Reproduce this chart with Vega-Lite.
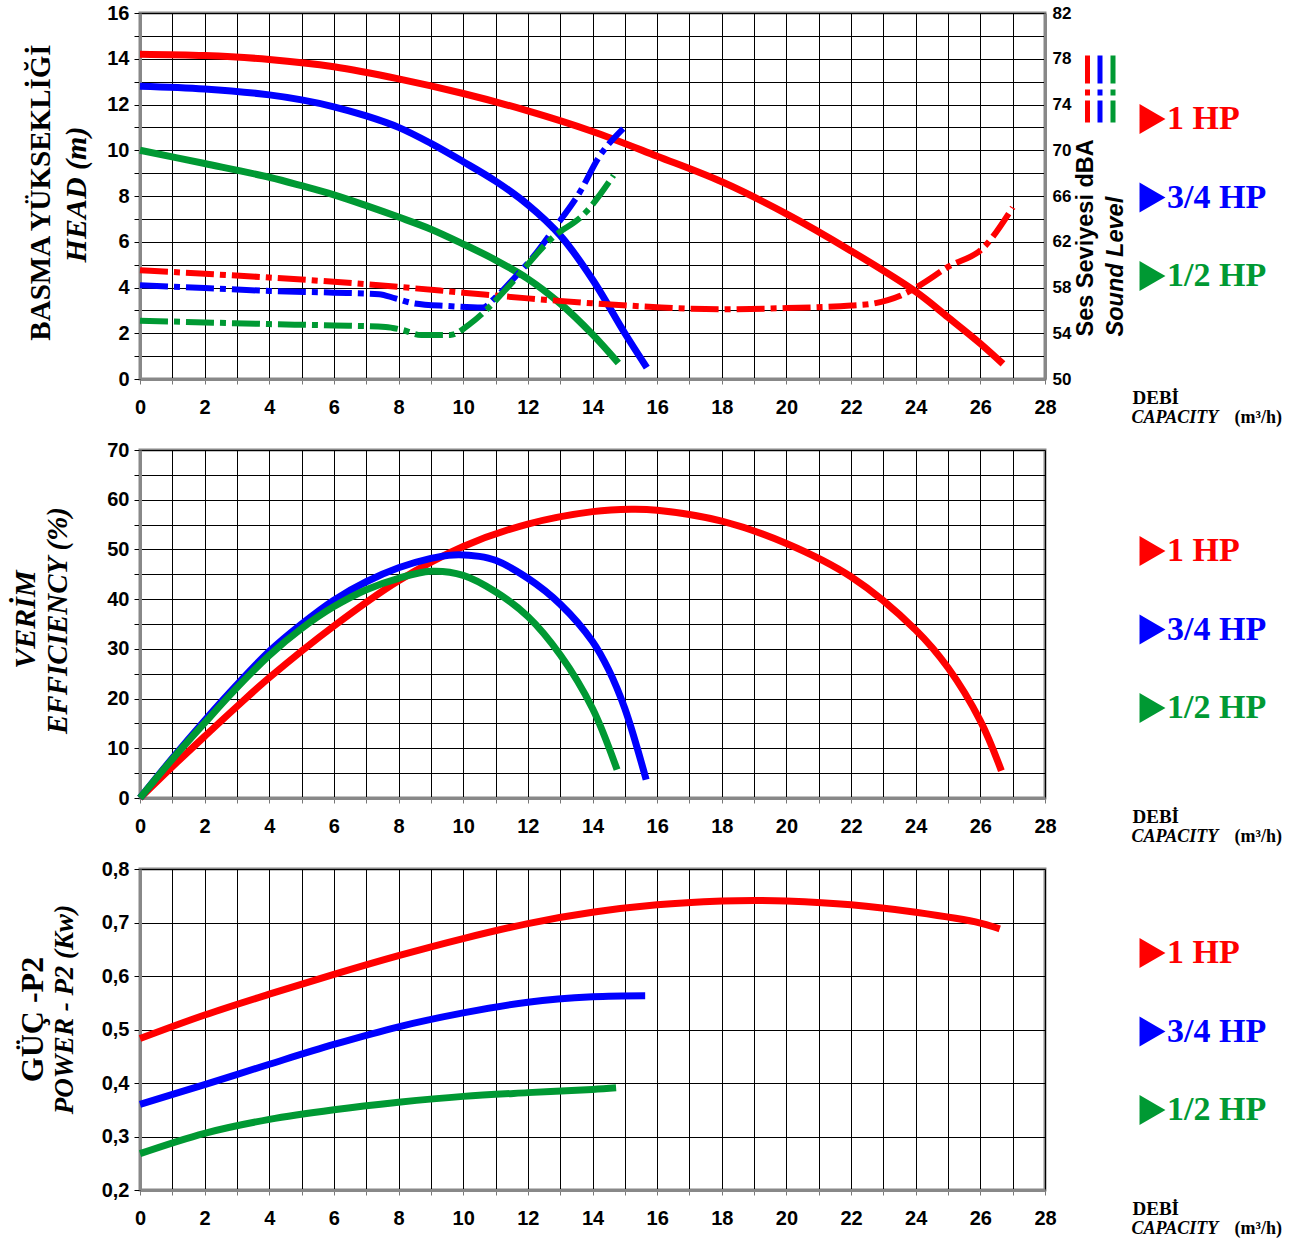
{
  "$schema": "https://vega.github.io/schema/vega-lite/v6.json",
  "padding": {"left": 8, "top": 1, "right": 0, "bottom": 0},
  "bounds": "flush",
  "spacing": 71,
  "background": "white",
  "config": {
    "font": "Liberation Sans",
    "view": {"stroke": "#888888", "strokeWidth": 3},
    "axis": {
      "labelFont": "Liberation Sans", "labelFontWeight": "bold", "labelColor": "#000000", "labelFontSize": 20,
      "titleColor": "#000000", "gridColor": "#000000", "gridOpacity": 1, "gridWidth": 1,
      "domainColor": "#888888", "domainWidth": 3, "tickColor": "#000000", "titleLimit": 2000,
      "labelOverlap": false, "labelFlush": false
    },
    "legend": {"padding": 0, "title": null}
  },
  "datasets": {
    "head": [
      {"motor": "1 HP", "Q": 0, "H": 14.2}, {"motor": "1 HP", "Q": 2, "H": 14.14}, {"motor": "1 HP", "Q": 4, "H": 13.97},
      {"motor": "1 HP", "Q": 6, "H": 13.65}, {"motor": "1 HP", "Q": 8, "H": 13.12}, {"motor": "1 HP", "Q": 10, "H": 12.48},
      {"motor": "1 HP", "Q": 12, "H": 11.72}, {"motor": "1 HP", "Q": 14, "H": 10.82}, {"motor": "1 HP", "Q": 16, "H": 9.74},
      {"motor": "1 HP", "Q": 18, "H": 8.62}, {"motor": "1 HP", "Q": 20, "H": 7.22}, {"motor": "1 HP", "Q": 22, "H": 5.6},
      {"motor": "1 HP", "Q": 24, "H": 3.82}, {"motor": "1 HP", "Q": 25, "H": 2.7}, {"motor": "1 HP", "Q": 26, "H": 1.55},
      {"motor": "1 HP", "Q": 26.7, "H": 0.66},
      {"motor": "3/4 HP", "Q": 0, "H": 12.8}, {"motor": "3/4 HP", "Q": 2, "H": 12.68}, {"motor": "3/4 HP", "Q": 4, "H": 12.42},
      {"motor": "3/4 HP", "Q": 5, "H": 12.2}, {"motor": "3/4 HP", "Q": 6, "H": 11.9}, {"motor": "3/4 HP", "Q": 7, "H": 11.5},
      {"motor": "3/4 HP", "Q": 8, "H": 11.0}, {"motor": "3/4 HP", "Q": 9, "H": 10.3}, {"motor": "3/4 HP", "Q": 10, "H": 9.5},
      {"motor": "3/4 HP", "Q": 11, "H": 8.65}, {"motor": "3/4 HP", "Q": 12, "H": 7.62}, {"motor": "3/4 HP", "Q": 13, "H": 6.28},
      {"motor": "3/4 HP", "Q": 14, "H": 4.35}, {"motor": "3/4 HP", "Q": 15, "H": 2.0}, {"motor": "3/4 HP", "Q": 15.68, "H": 0.5},
      {"motor": "1/2 HP", "Q": 0, "H": 10.0}, {"motor": "1/2 HP", "Q": 2, "H": 9.42}, {"motor": "1/2 HP", "Q": 4, "H": 8.82},
      {"motor": "1/2 HP", "Q": 5, "H": 8.45}, {"motor": "1/2 HP", "Q": 6, "H": 8.05}, {"motor": "1/2 HP", "Q": 7, "H": 7.58},
      {"motor": "1/2 HP", "Q": 8, "H": 7.08}, {"motor": "1/2 HP", "Q": 9, "H": 6.55}, {"motor": "1/2 HP", "Q": 10, "H": 5.9},
      {"motor": "1/2 HP", "Q": 11, "H": 5.2}, {"motor": "1/2 HP", "Q": 12, "H": 4.38}, {"motor": "1/2 HP", "Q": 13, "H": 3.3},
      {"motor": "1/2 HP", "Q": 14, "H": 1.95}, {"motor": "1/2 HP", "Q": 14.8, "H": 0.7}
    ],
    "sound": [
      {"motor": "1 HP", "Q": 0, "dB": 59.5}, {"motor": "1 HP", "Q": 2, "dB": 59.2}, {"motor": "1 HP", "Q": 4, "dB": 58.87},
      {"motor": "1 HP", "Q": 6, "dB": 58.5}, {"motor": "1 HP", "Q": 8, "dB": 58.05}, {"motor": "1 HP", "Q": 10, "dB": 57.55},
      {"motor": "1 HP", "Q": 12, "dB": 57.05}, {"motor": "1 HP", "Q": 14, "dB": 56.62}, {"motor": "1 HP", "Q": 16, "dB": 56.28},
      {"motor": "1 HP", "Q": 17, "dB": 56.15}, {"motor": "1 HP", "Q": 18, "dB": 56.1}, {"motor": "1 HP", "Q": 20, "dB": 56.2},
      {"motor": "1 HP", "Q": 22, "dB": 56.42}, {"motor": "1 HP", "Q": 22.7, "dB": 56.6}, {"motor": "1 HP", "Q": 23.5, "dB": 57.25},
      {"motor": "1 HP", "Q": 24.1, "dB": 58.15}, {"motor": "1 HP", "Q": 25, "dB": 59.8}, {"motor": "1 HP", "Q": 26.1, "dB": 61.5},
      {"motor": "1 HP", "Q": 27, "dB": 65.0},
      {"motor": "3/4 HP", "Q": 0, "dB": 58.2}, {"motor": "3/4 HP", "Q": 2, "dB": 57.95}, {"motor": "3/4 HP", "Q": 4, "dB": 57.7},
      {"motor": "3/4 HP", "Q": 6, "dB": 57.55}, {"motor": "3/4 HP", "Q": 7.4, "dB": 57.42}, {"motor": "3/4 HP", "Q": 7.9, "dB": 57.05},
      {"motor": "3/4 HP", "Q": 8.5, "dB": 56.6}, {"motor": "3/4 HP", "Q": 9.5, "dB": 56.38}, {"motor": "3/4 HP", "Q": 10.6, "dB": 56.25},
      {"motor": "3/4 HP", "Q": 10.95, "dB": 57.0}, {"motor": "3/4 HP", "Q": 11.6, "dB": 58.9}, {"motor": "3/4 HP", "Q": 12.2, "dB": 60.8},
      {"motor": "3/4 HP", "Q": 12.8, "dB": 63.1}, {"motor": "3/4 HP", "Q": 13.6, "dB": 66.3}, {"motor": "3/4 HP", "Q": 14.2, "dB": 69.4},
      {"motor": "3/4 HP", "Q": 14.95, "dB": 71.9},
      {"motor": "1/2 HP", "Q": 0, "dB": 55.1}, {"motor": "1/2 HP", "Q": 2, "dB": 54.95}, {"motor": "1/2 HP", "Q": 4, "dB": 54.8},
      {"motor": "1/2 HP", "Q": 6, "dB": 54.68}, {"motor": "1/2 HP", "Q": 7.6, "dB": 54.55}, {"motor": "1/2 HP", "Q": 8.1, "dB": 54.3},
      {"motor": "1/2 HP", "Q": 8.7, "dB": 53.85}, {"motor": "1/2 HP", "Q": 9.6, "dB": 53.85}, {"motor": "1/2 HP", "Q": 10.2, "dB": 54.8},
      {"motor": "1/2 HP", "Q": 10.7, "dB": 56.0}, {"motor": "1/2 HP", "Q": 11.5, "dB": 58.4}, {"motor": "1/2 HP", "Q": 12.7, "dB": 62.2},
      {"motor": "1/2 HP", "Q": 13.8, "dB": 64.6}, {"motor": "1/2 HP", "Q": 14.65, "dB": 67.8}
    ],
    "eff": [
      {"motor": "1 HP", "Q": 0, "E": 0}, {"motor": "1 HP", "Q": 1, "E": 6.3}, {"motor": "1 HP", "Q": 2, "E": 12.4},
      {"motor": "1 HP", "Q": 3, "E": 18.4}, {"motor": "1 HP", "Q": 4, "E": 24.2}, {"motor": "1 HP", "Q": 6, "E": 34.6},
      {"motor": "1 HP", "Q": 8, "E": 43.7}, {"motor": "1 HP", "Q": 10, "E": 50.6}, {"motor": "1 HP", "Q": 12, "E": 55.1},
      {"motor": "1 HP", "Q": 14, "E": 57.6}, {"motor": "1 HP", "Q": 15.2, "E": 58.1}, {"motor": "1 HP", "Q": 16, "E": 57.9},
      {"motor": "1 HP", "Q": 18, "E": 55.7}, {"motor": "1 HP", "Q": 20, "E": 51.2}, {"motor": "1 HP", "Q": 22, "E": 44.5},
      {"motor": "1 HP", "Q": 24, "E": 33.8}, {"motor": "1 HP", "Q": 25, "E": 26.2}, {"motor": "1 HP", "Q": 26, "E": 15.5},
      {"motor": "1 HP", "Q": 26.65, "E": 5.5},
      {"motor": "3/4 HP", "Q": 0, "E": 0}, {"motor": "3/4 HP", "Q": 1, "E": 8.0}, {"motor": "3/4 HP", "Q": 2, "E": 15.6},
      {"motor": "3/4 HP", "Q": 3, "E": 22.8}, {"motor": "3/4 HP", "Q": 4, "E": 29.5}, {"motor": "3/4 HP", "Q": 5, "E": 35.0},
      {"motor": "3/4 HP", "Q": 6, "E": 39.8}, {"motor": "3/4 HP", "Q": 7, "E": 43.5}, {"motor": "3/4 HP", "Q": 8, "E": 46.3},
      {"motor": "3/4 HP", "Q": 9, "E": 48.2}, {"motor": "3/4 HP", "Q": 9.7, "E": 48.9}, {"motor": "3/4 HP", "Q": 10.5, "E": 48.6},
      {"motor": "3/4 HP", "Q": 11, "E": 47.8}, {"motor": "3/4 HP", "Q": 12, "E": 44.2}, {"motor": "3/4 HP", "Q": 13, "E": 39.0},
      {"motor": "3/4 HP", "Q": 14, "E": 31.5}, {"motor": "3/4 HP", "Q": 14.5, "E": 25.8}, {"motor": "3/4 HP", "Q": 15, "E": 18.0},
      {"motor": "3/4 HP", "Q": 15.66, "E": 3.7},
      {"motor": "1/2 HP", "Q": 0, "E": 0}, {"motor": "1/2 HP", "Q": 1, "E": 7.8}, {"motor": "1/2 HP", "Q": 2, "E": 15.1},
      {"motor": "1/2 HP", "Q": 3, "E": 22.2}, {"motor": "1/2 HP", "Q": 4, "E": 28.7}, {"motor": "1/2 HP", "Q": 5, "E": 34.1},
      {"motor": "1/2 HP", "Q": 6, "E": 38.5}, {"motor": "1/2 HP", "Q": 7, "E": 41.9}, {"motor": "1/2 HP", "Q": 8, "E": 44.2},
      {"motor": "1/2 HP", "Q": 9, "E": 45.6}, {"motor": "1/2 HP", "Q": 10, "E": 44.8}, {"motor": "1/2 HP", "Q": 11, "E": 41.5},
      {"motor": "1/2 HP", "Q": 12, "E": 36.5}, {"motor": "1/2 HP", "Q": 13, "E": 28.8}, {"motor": "1/2 HP", "Q": 14, "E": 18.0},
      {"motor": "1/2 HP", "Q": 14.76, "E": 5.7}
    ],
    "power": [
      {"motor": "1 HP", "Q": 0, "P": 0.483}, {"motor": "1 HP", "Q": 2, "P": 0.527}, {"motor": "1 HP", "Q": 4, "P": 0.566},
      {"motor": "1 HP", "Q": 6, "P": 0.603}, {"motor": "1 HP", "Q": 8, "P": 0.638}, {"motor": "1 HP", "Q": 10, "P": 0.67},
      {"motor": "1 HP", "Q": 12, "P": 0.698}, {"motor": "1 HP", "Q": 14, "P": 0.719}, {"motor": "1 HP", "Q": 16, "P": 0.733},
      {"motor": "1 HP", "Q": 18, "P": 0.74}, {"motor": "1 HP", "Q": 19, "P": 0.741}, {"motor": "1 HP", "Q": 20, "P": 0.74},
      {"motor": "1 HP", "Q": 22, "P": 0.733}, {"motor": "1 HP", "Q": 24, "P": 0.719}, {"motor": "1 HP", "Q": 26, "P": 0.699},
      {"motor": "1 HP", "Q": 26.6, "P": 0.688},
      {"motor": "3/4 HP", "Q": 0, "P": 0.36}, {"motor": "3/4 HP", "Q": 2, "P": 0.397}, {"motor": "3/4 HP", "Q": 4, "P": 0.435},
      {"motor": "3/4 HP", "Q": 6, "P": 0.472}, {"motor": "3/4 HP", "Q": 8, "P": 0.505}, {"motor": "3/4 HP", "Q": 10, "P": 0.531},
      {"motor": "3/4 HP", "Q": 12, "P": 0.551}, {"motor": "3/4 HP", "Q": 14, "P": 0.561}, {"motor": "3/4 HP", "Q": 15.63, "P": 0.563},
      {"motor": "1/2 HP", "Q": 0, "P": 0.268}, {"motor": "1/2 HP", "Q": 2, "P": 0.306}, {"motor": "1/2 HP", "Q": 4, "P": 0.332},
      {"motor": "1/2 HP", "Q": 6, "P": 0.35}, {"motor": "1/2 HP", "Q": 8, "P": 0.364}, {"motor": "1/2 HP", "Q": 10, "P": 0.375},
      {"motor": "1/2 HP", "Q": 12, "P": 0.382}, {"motor": "1/2 HP", "Q": 14, "P": 0.388}, {"motor": "1/2 HP", "Q": 14.73, "P": 0.391}
    ]
  },
  "resolve": {"scale": {"x": "independent", "y": "independent", "color": "independent"}, "legend": {"color": "independent"}},
  "vconcat": [
    {
      "width": 905, "height": 366,
      "layer": [
        {
          "data": {"name": "head"},
          "mark": {"type": "line", "strokeWidth": 7, "interpolate": "catmull-rom"},
          "encoding": {
            "x": {"field": "Q", "type": "quantitative", "scale": {"domain": [0, 28], "nice": false},
              "axis": {"orient": "bottom", "values": [0,1,2,3,4,5,6,7,8,9,10,11,12,13,14,15,16,17,18,19,20,21,22,23,24,25,26,27,28],
                "labelExpr": "datum.value % 2 === 0 ? datum.label : ''", "labelPadding": 13, "tickSize": 5, "tickColor": "#777777", "grid": true,
                "title": "DEBİ", "titleFont": "Liberation Serif", "titleFontWeight": "bold", "titleFontSize": 19,
                "titleX": 992, "titleY": 24, "titleAlign": "left", "titleBaseline": "alphabetic", "titleAngle": 0}},
            "y": {"field": "H", "type": "quantitative", "scale": {"domain": [0, 16], "nice": false},
              "axis": {"orient": "left", "values": [0,1,2,3,4,5,6,7,8,9,10,11,12,13,14,15,16],
                "labelExpr": "datum.value % 2 === 0 ? datum.label : ''", "labelPadding": 5, "tickSize": 6, "grid": true,
                "title": "HEAD (m)", "titleFont": "Liberation Serif", "titleFontWeight": "bold", "titleFontStyle": "italic", "titleFontSize": 30,
                "titleX": -64, "titleY": 181, "titleAngle": 270, "titleAlign": "center", "titleBaseline": "middle"}},
            "color": {"field": "motor", "type": "nominal",
              "scale": {"domain": ["1 HP", "3/4 HP", "1/2 HP"], "range": ["#ff0000", "#0000ff", "#009933"]},
              "legend": {"orient": "none", "legendX": 993, "legendY": 89, "direction": "vertical",
                "symbolType": "triangle-right", "symbolSize": 160, "symbolStrokeWidth": 10,
                "labelFont": "Liberation Serif", "labelFontWeight": "bold", "labelFontSize": 34,
                "labelColor": {"expr": "datum.value === '1 HP' ? '#ff0000' : datum.value === '3/4 HP' ? '#0000ff' : '#009933'"},
                "labelOffset": 0, "rowPadding": 24.5}}
          }
        },
        {
          "data": {"name": "sound"},
          "transform": [{"filter": "datum.motor === '1 HP'"}],
          "mark": {"type": "line", "strokeWidth": 6, "strokeDash": [28, 6, 6, 6], "interpolate": "monotone"},
          "encoding": {
            "x": {"field": "Q", "type": "quantitative", "scale": {"domain": [0, 28], "nice": false},
              "axis": {"orient": "bottom", "labels": false, "ticks": false, "domain": false, "grid": false,
                "title": "CAPACITY", "titleFont": "Liberation Serif", "titleFontWeight": "bold", "titleFontStyle": "italic", "titleFontSize": 18,
                "titleX": 991, "titleY": 43, "titleAlign": "left", "titleBaseline": "alphabetic", "titleAngle": 0}},
            "y": {"field": "dB", "type": "quantitative", "scale": {"domain": [50, 82], "nice": false},
              "axis": {"orient": "right", "values": [50,52,54,56,58,60,62,64,66,68,70,72,74,76,78,80,82],
                "labelExpr": "(datum.value - 50) % 4 === 0 ? datum.label : ''", "labelFontSize": 17, "labelPadding": 7, "ticks": false, "grid": false,
                "title": "Ses Seviyesi dBA", "titleFont": "Liberation Sans", "titleFontWeight": "bold", "titleFontSize": 23.5,
                "titleX": 40, "titleY": 323, "titleAngle": 270, "titleAlign": "left", "titleBaseline": "middle"}},
            "color": {"field": "motor", "type": "nominal",
              "scale": {"domain": ["1 HP"], "range": ["#ff0000"]},
              "legend": {"orient": "none", "legendX": 945, "legendY": 40, "direction": "horizontal",
                "symbolType": "M0,-1L0,1", "symbolSize": 4489, "symbolStrokeWidth": 5, "symbolDash": [28, 6, 6, 5],
                "symbolOffset": -33.5, "labelExpr": "''", "labelFontSize": 1, "labelOffset": -71.5}}
          }
        },
        {
          "data": {"name": "sound"},
          "transform": [{"filter": "datum.motor === '3/4 HP'"}],
          "mark": {"type": "line", "strokeWidth": 6, "strokeDash": [28, 6, 6, 6], "interpolate": "monotone"},
          "encoding": {
            "x": {"field": "Q", "type": "quantitative", "scale": {"domain": [0, 28], "nice": false}, "axis": null},
            "y": {"field": "dB", "type": "quantitative", "scale": {"domain": [50, 82], "nice": false}, "axis": null},
            "color": {"field": "motor", "type": "nominal",
              "scale": {"domain": ["3/4 HP"], "range": ["#0000ff"]},
              "legend": {"orient": "none", "legendX": 957.5, "legendY": 40, "direction": "horizontal",
                "symbolType": "M0,-1L0,1", "symbolSize": 4489, "symbolStrokeWidth": 5, "symbolDash": [28, 6, 6, 5],
                "symbolOffset": -33.5, "labelExpr": "''", "labelFontSize": 1, "labelOffset": -71.5}}
          }
        },
        {
          "data": {"name": "sound"},
          "transform": [{"filter": "datum.motor === '1/2 HP'"}],
          "mark": {"type": "line", "strokeWidth": 6, "strokeDash": [28, 6, 6, 6], "interpolate": "monotone"},
          "encoding": {
            "x": {"field": "Q", "type": "quantitative", "scale": {"domain": [0, 28], "nice": false}, "axis": null},
            "y": {"field": "dB", "type": "quantitative", "scale": {"domain": [50, 82], "nice": false}, "axis": null},
            "color": {"field": "motor", "type": "nominal",
              "scale": {"domain": ["1/2 HP"], "range": ["#009933"]},
              "legend": {"orient": "none", "legendX": 970.5, "legendY": 40, "direction": "horizontal",
                "symbolType": "M0,-1L0,1", "symbolSize": 4489, "symbolStrokeWidth": 5, "symbolDash": [28, 6, 6, 5],
                "symbolOffset": -33.5, "labelExpr": "''", "labelFontSize": 1, "labelOffset": -71.5}}
          }
        },
        {
          "data": {"name": "sound"},
          "mark": {"type": "line", "opacity": 0},
          "encoding": {
            "x": {"field": "Q", "type": "quantitative", "scale": {"domain": [0, 28], "nice": false},
              "axis": {"orient": "bottom", "labels": false, "ticks": false, "domain": false, "grid": false,
                "title": "(m³/h)", "titleFont": "Liberation Serif", "titleFontWeight": "bold", "titleFontSize": 18,
                "titleX": 1094, "titleY": 43, "titleAlign": "left", "titleBaseline": "alphabetic", "titleAngle": 0}},
            "y": {"field": "dB", "type": "quantitative", "scale": {"domain": [50, 82], "nice": false},
              "axis": {"orient": "right", "labels": false, "ticks": false, "domain": false, "grid": false,
                "title": "Sound Level", "titleFont": "Liberation Sans", "titleFontWeight": "bold", "titleFontStyle": "italic", "titleFontSize": 23.5,
                "titleX": 70, "titleY": 323, "titleAngle": 270, "titleAlign": "left", "titleBaseline": "middle"}}
          }
        },
        {
          "data": {"name": "head"},
          "mark": {"type": "line", "opacity": 0},
          "encoding": {
            "x": {"field": "Q", "type": "quantitative", "scale": {"domain": [0, 28], "nice": false}, "axis": null},
            "y": {"field": "H", "type": "quantitative", "scale": {"domain": [0, 16], "nice": false},
              "axis": {"orient": "left", "labels": false, "ticks": false, "domain": false, "grid": false,
                "title": "BASMA YÜKSEKLİĞİ", "titleFont": "Liberation Serif", "titleFontWeight": "bold", "titleFontSize": 29,
                "titleX": -100, "titleY": 179, "titleAngle": 270, "titleAlign": "center", "titleBaseline": "middle"}}
          }
        }
      ],
      "resolve": {"scale": {"x": "independent", "y": "independent", "color": "independent"}, "legend": {"color": "independent"}}
    },
    {
      "width": 905, "height": 348,
      "layer": [
        {
          "data": {"name": "eff"},
          "mark": {"type": "line", "strokeWidth": 7, "interpolate": "catmull-rom"},
          "encoding": {
            "x": {"field": "Q", "type": "quantitative", "scale": {"domain": [0, 28], "nice": false},
              "axis": {"orient": "bottom", "values": [0,1,2,3,4,5,6,7,8,9,10,11,12,13,14,15,16,17,18,19,20,21,22,23,24,25,26,27,28],
                "labelExpr": "datum.value % 2 === 0 ? datum.label : ''", "labelPadding": 13, "tickSize": 5, "tickColor": "#777777", "grid": true,
                "title": "DEBİ", "titleFont": "Liberation Serif", "titleFontWeight": "bold", "titleFontSize": 19,
                "titleX": 992, "titleY": 24, "titleAlign": "left", "titleBaseline": "alphabetic", "titleAngle": 0}},
            "y": {"field": "E", "type": "quantitative", "scale": {"domain": [0, 70], "nice": false},
              "axis": {"orient": "left", "values": [0,5,10,15,20,25,30,35,40,45,50,55,60,65,70],
                "labelExpr": "datum.value % 10 === 0 ? datum.label : ''", "labelPadding": 5, "tickSize": 6, "grid": true,
                "title": "EFFICIENCY (%)", "titleFont": "Liberation Serif", "titleFontWeight": "bold", "titleFontStyle": "italic", "titleFontSize": 29,
                "titleX": -83, "titleY": 170, "titleAngle": 270, "titleAlign": "center", "titleBaseline": "middle"}},
            "color": {"field": "motor", "type": "nominal",
              "scale": {"domain": ["1 HP", "3/4 HP", "1/2 HP"], "range": ["#ff0000", "#0000ff", "#009933"]},
              "legend": {"orient": "none", "legendX": 993, "legendY": 84, "direction": "vertical",
                "symbolType": "triangle-right", "symbolSize": 160, "symbolStrokeWidth": 10,
                "labelFont": "Liberation Serif", "labelFontWeight": "bold", "labelFontSize": 34,
                "labelColor": {"expr": "datum.value === '1 HP' ? '#ff0000' : datum.value === '3/4 HP' ? '#0000ff' : '#009933'"},
                "labelOffset": 0, "rowPadding": 24.5}}
          }
        },
        {
          "data": {"name": "eff"},
          "mark": {"type": "line", "opacity": 0},
          "encoding": {
            "x": {"field": "Q", "type": "quantitative", "scale": {"domain": [0, 28], "nice": false},
              "axis": {"orient": "bottom", "labels": false, "ticks": false, "domain": false, "grid": false,
                "title": "CAPACITY", "titleFont": "Liberation Serif", "titleFontWeight": "bold", "titleFontStyle": "italic", "titleFontSize": 18,
                "titleX": 991, "titleY": 43, "titleAlign": "left", "titleBaseline": "alphabetic", "titleAngle": 0}},
            "y": {"field": "E", "type": "quantitative", "scale": {"domain": [0, 70], "nice": false},
              "axis": {"orient": "left", "labels": false, "ticks": false, "domain": false, "grid": false,
                "title": "VERİM", "titleFont": "Liberation Serif", "titleFontWeight": "bold", "titleFontStyle": "italic", "titleFontSize": 30,
                "titleX": -115, "titleY": 169, "titleAngle": 270, "titleAlign": "center", "titleBaseline": "middle"}}
          }
        },
        {
          "data": {"name": "eff"},
          "mark": {"type": "line", "opacity": 0},
          "encoding": {
            "x": {"field": "Q", "type": "quantitative", "scale": {"domain": [0, 28], "nice": false},
              "axis": {"orient": "bottom", "labels": false, "ticks": false, "domain": false, "grid": false,
                "title": "(m³/h)", "titleFont": "Liberation Serif", "titleFontWeight": "bold", "titleFontSize": 18,
                "titleX": 1094, "titleY": 43, "titleAlign": "left", "titleBaseline": "alphabetic", "titleAngle": 0}},
            "y": {"field": "E", "type": "quantitative", "scale": {"domain": [0, 70], "nice": false}, "axis": null}
          }
        }
      ],
      "resolve": {"scale": {"x": "independent", "y": "independent", "color": "independent"}, "legend": {"color": "independent"}}
    },
    {
      "width": 905, "height": 321,
      "layer": [
        {
          "data": {"name": "power"},
          "mark": {"type": "line", "strokeWidth": 7, "interpolate": "catmull-rom"},
          "encoding": {
            "x": {"field": "Q", "type": "quantitative", "scale": {"domain": [0, 28], "nice": false},
              "axis": {"orient": "bottom", "values": [0,1,2,3,4,5,6,7,8,9,10,11,12,13,14,15,16,17,18,19,20,21,22,23,24,25,26,27,28],
                "labelExpr": "datum.value % 2 === 0 ? datum.label : ''", "labelPadding": 13, "tickSize": 5, "tickColor": "#777777", "grid": true,
                "title": "DEBİ", "titleFont": "Liberation Serif", "titleFontWeight": "bold", "titleFontSize": 19,
                "titleX": 992, "titleY": 24, "titleAlign": "left", "titleBaseline": "alphabetic", "titleAngle": 0}},
            "y": {"field": "P", "type": "quantitative", "scale": {"domain": [0.2, 0.8], "nice": false},
              "axis": {"orient": "left", "values": [0.2, 0.3, 0.4, 0.5, 0.6, 0.7, 0.8],
                "labelExpr": "replace(format(datum.value, '.1f'), '.', ',')", "labelPadding": 5, "tickSize": 6, "grid": true,
                "title": "POWER - P2 (Kw)", "titleFont": "Liberation Serif", "titleFontWeight": "bold", "titleFontStyle": "italic", "titleFontSize": 27,
                "titleX": -76, "titleY": 140, "titleAngle": 270, "titleAlign": "center", "titleBaseline": "middle"}},
            "color": {"field": "motor", "type": "nominal",
              "scale": {"domain": ["1 HP", "3/4 HP", "1/2 HP"], "range": ["#ff0000", "#0000ff", "#009933"]},
              "legend": {"orient": "none", "legendX": 993, "legendY": 67, "direction": "vertical",
                "symbolType": "triangle-right", "symbolSize": 160, "symbolStrokeWidth": 10,
                "labelFont": "Liberation Serif", "labelFontWeight": "bold", "labelFontSize": 34,
                "labelColor": {"expr": "datum.value === '1 HP' ? '#ff0000' : datum.value === '3/4 HP' ? '#0000ff' : '#009933'"},
                "labelOffset": 0, "rowPadding": 24.5}}
          }
        },
        {
          "data": {"name": "power"},
          "mark": {"type": "line", "opacity": 0},
          "encoding": {
            "x": {"field": "Q", "type": "quantitative", "scale": {"domain": [0, 28], "nice": false},
              "axis": {"orient": "bottom", "labels": false, "ticks": false, "domain": false, "grid": false,
                "title": "CAPACITY", "titleFont": "Liberation Serif", "titleFontWeight": "bold", "titleFontStyle": "italic", "titleFontSize": 18,
                "titleX": 991, "titleY": 43, "titleAlign": "left", "titleBaseline": "alphabetic", "titleAngle": 0}},
            "y": {"field": "P", "type": "quantitative", "scale": {"domain": [0.2, 0.8], "nice": false},
              "axis": {"orient": "left", "labels": false, "ticks": false, "domain": false, "grid": false,
                "title": "GÜÇ -P2", "titleFont": "Liberation Serif", "titleFontWeight": "bold", "titleFontSize": 32,
                "titleX": -108, "titleY": 150, "titleAngle": 270, "titleAlign": "center", "titleBaseline": "middle"}}
          }
        },
        {
          "data": {"name": "power"},
          "mark": {"type": "line", "opacity": 0},
          "encoding": {
            "x": {"field": "Q", "type": "quantitative", "scale": {"domain": [0, 28], "nice": false},
              "axis": {"orient": "bottom", "labels": false, "ticks": false, "domain": false, "grid": false,
                "title": "(m³/h)", "titleFont": "Liberation Serif", "titleFontWeight": "bold", "titleFontSize": 18,
                "titleX": 1094, "titleY": 43, "titleAlign": "left", "titleBaseline": "alphabetic", "titleAngle": 0}},
            "y": {"field": "P", "type": "quantitative", "scale": {"domain": [0.2, 0.8], "nice": false}, "axis": null}
          }
        }
      ],
      "resolve": {"scale": {"x": "independent", "y": "independent", "color": "independent"}, "legend": {"color": "independent"}}
    }
  ]
}
